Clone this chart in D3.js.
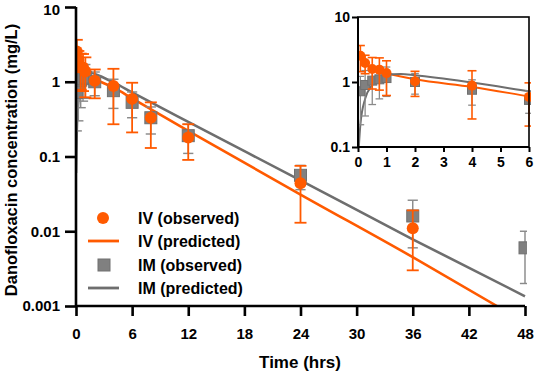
<!DOCTYPE html>
<html><head><meta charset="utf-8">
<script src="https://cdn.jsdelivr.net/npm/d3@7/dist/d3.min.js"></script>
<style>
body{margin:0;background:#fff;}
svg{display:block;font-family:"Liberation Sans",Arial,sans-serif;font-weight:bold;}
</style></head>
<body><svg id="c" width="536" height="374"></svg>
<script>
// ---- data ----
const ivTimes = [0.083,0.25,0.5,0.75,1,2,4,6,8,12,24,36];
const ivMean  = [2.54,1.96,1.58,1.55,1.37,1.03,0.88,0.59,0.33,0.18,0.044,0.011];
const ivSD    = [1.1,0.62,0.8,0.8,0.75,0.43,0.61,0.38,0.2,0.09,0.031,0.008];
const imTimes = [0.083,0.25,0.5,0.75,1,2,4,6,8,12,24,36,48];
const imMean  = [0.72,0.9,1.05,1.1,1.15,1.0,0.76,0.53,0.33,0.19,0.056,0.016,0.006];
const imSD    = [0.5,0.6,0.6,0.55,0.55,0.35,0.32,0.2,0.13,0.08,0.02,0.01,0.004];
const ivPredT = [0,0.083,0.25,0.5,0.75,1,2,4,6,12,24,36,45];
const ivPred  = [2.6,2.3,1.9,1.6,1.45,1.36,1.1,0.84,0.6,0.22,0.031,0.0045,0.001];
const imPredT = [0,0.083,0.25,0.5,0.75,1,1.5,2,4,6,12,24,36,48];
const imPred  = [0.06,0.22,0.55,0.9,1.15,1.3,1.33,1.27,0.98,0.72,0.29,0.048,0.0078,0.00135];
const xTicksMain = [0,6,12,18,24,30,36,42,48];
const yTicksMain = [0.001,0.01,0.1,1,10];
const yTickLabelsMain = ["0.001","0.01","0.1","1","10"];
const xTicksInset = [0,1,2,3,4,5,6];
const yTicksInset = [0.1,1,10];
const yTickLabelsInset = ["0.1","1","10"];
const legendLabels = ["IV (observed)","IV (predicted)","IM (observed)","IM (predicted)"];

const ORANGE = "#ff5a00", GRAY = "#6e6e6e", GRAYBAR = "#8a8a8a", GRAYFILL = "#808080";
const FONT = "'Liberation Sans',Arial,sans-serif";
const svg = d3.select("#c");

function panel(g, x, y, opt){
  const id = opt.id;
  g.append("clipPath").attr("id", id).append("rect")
    .attr("x", x.range()[0]).attr("y", y.range()[1]-2)
    .attr("width", x.range()[1]-x.range()[0]+2).attr("height", y.range()[0]-y.range()[1]+2);
  const line = d3.line().x(d=>x(d[0])).y(d=>y(d[1])).curve(d3.curveMonotoneX);
  const lg = g.append("g").attr("clip-path", `url(#${id})`);
  lg.append("path").datum(ivPredT.map((t,i)=>[t,ivPred[i]]).filter(d=>d[0]<=x.domain()[1]+6.5))
    .attr("d", line).attr("fill","none").attr("stroke",ORANGE).attr("stroke-width",opt.lw);
  lg.append("path").datum(imPredT.map((t,i)=>[t,imPred[i]]).filter(d=>d[0]<=x.domain()[1]+6.5))
    .attr("d", line).attr("fill","none").attr("stroke",GRAY).attr("stroke-width",opt.lw);

  const ymin = y.domain()[0];
  function bars(times, mean, sd, color, sw, cap){
    const gg = lg.append("g").attr("stroke", color).attr("stroke-width", sw);
    times.forEach((t,i)=>{
      if (t > x.domain()[1]+0.01) return;
      const hi = y(mean[i]+sd[i]);
      const lo = y(Math.max(mean[i]-sd[i], ymin*0.5));
      const cx = x(t);
      gg.append("line").attr("x1",cx).attr("x2",cx).attr("y1",hi).attr("y2",lo);
      gg.append("line").attr("x1",cx-cap).attr("x2",cx+cap).attr("y1",hi).attr("y2",hi);
      if (mean[i]-sd[i] > ymin)
        gg.append("line").attr("x1",cx-cap).attr("x2",cx+cap).attr("y1",lo).attr("y2",lo);
    });
  }
  bars(imTimes, imMean, imSD, GRAYBAR, opt.bw*0.8, opt.cap*0.85);
  const s = opt.sq;
  lg.append("g").selectAll("rect").data(imTimes.map((t,i)=>[t,imMean[i]]).filter(d=>d[0]<=x.domain()[1]+0.01))
    .join("rect").attr("x",d=>x(d[0])-s/2).attr("y",d=>y(d[1])-s/2).attr("width",s).attr("height",s)
    .attr("fill",GRAYFILL).attr("stroke","#707070").attr("stroke-width",1);
  bars(ivTimes, ivMean, ivSD, ORANGE, opt.bw, opt.cap);
  lg.append("g").selectAll("circle").data(ivTimes.map((t,i)=>[t,ivMean[i]]).filter(d=>d[0]<=x.domain()[1]+0.01))
    .join("circle").attr("cx",d=>x(d[0])).attr("cy",d=>y(d[1])).attr("r",opt.r).attr("fill",ORANGE);
}

function styleAxis(g, lw, fs){
  g.select(".domain").attr("stroke","#000").attr("stroke-width",lw);
  g.selectAll(".tick line").attr("stroke","#000").attr("stroke-width",lw);
  g.selectAll(".tick text").attr("fill","#000").style("font-size",fs).style("font-weight","bold")
   .style("font-family",FONT);
}

// ---- main chart ----
const x = d3.scaleLinear().domain([0,48]).range([76,525]);
const y = d3.scaleLog().domain([0.001,10]).range([306,7]);
const main = svg.append("g");
panel(main, x, y, {id:"clipMain", lw:2.6, bw:1.8, cap:6, sq:12, r:6});

const gx = main.append("g").attr("transform",`translate(0,306)`)
  .call(d3.axisBottom(x).tickValues(xTicksMain).tickSize(10).tickPadding(12).tickFormat(d3.format("d")));
const gy = main.append("g").attr("transform",`translate(76,0)`)
  .call(d3.axisLeft(y).tickValues(yTicksMain).tickSize(11).tickPadding(5).tickFormat((d,i)=>yTickLabelsMain[i]));
styleAxis(gx, 2.6, "15px");
styleAxis(gy, 2.6, "15px");
gy.selectAll(".tick text").filter(d=>d===10).attr("dy","0.5em");
gx.select(".domain").attr("d", `M${x.range()[0]},0H${x.range()[1]}`);
gy.select(".domain").attr("d", `M0,${y.range()[0]}V${y.range()[1]}`);

main.append("text").attr("x",300).attr("y",368).attr("text-anchor","middle")
  .style("font-size","17px").text("Time (hrs)");
main.append("text").attr("transform","translate(17,160) rotate(-90)").attr("text-anchor","middle")
  .style("font-size","16.5px").text("Danofloxacin concentration (mg/L)");

// legend
const lgd = main.append("g");
const ly = [218,241,265,288];
lgd.append("circle").attr("cx",103).attr("cy",ly[0]).attr("r",6).attr("fill",ORANGE);
lgd.append("line").attr("x1",88).attr("x2",119).attr("y1",ly[1]).attr("y2",ly[1]).attr("stroke",ORANGE).attr("stroke-width",2.8);
lgd.append("rect").attr("x",98).attr("y",ly[2]-6).attr("width",12).attr("height",12).attr("fill",GRAYFILL).attr("stroke","#707070");
lgd.append("line").attr("x1",88).attr("x2",119).attr("y1",ly[3]).attr("y2",ly[3]).attr("stroke",GRAY).attr("stroke-width",2.8);
lgd.selectAll("text").data(legendLabels).join("text")
  .attr("x",138).attr("y",(d,i)=>ly[i]).attr("dy","0.36em").style("font-size","16px").text(d=>d);

// ---- inset ----
const xi = d3.scaleLinear().domain([0,6]).range([358,529]);
const yi = d3.scaleLog().domain([0.1,10]).range([147,17]);
const inset = svg.append("g");
panel(inset, xi, yi, {id:"clipInset", lw:2, bw:1.6, cap:4.5, sq:9, r:5});
inset.append("rect").attr("x",358).attr("y",17).attr("width",171).attr("height",130)
  .attr("fill","none").attr("stroke","#000").attr("stroke-width",1.6);
const gxi = inset.append("g").attr("transform","translate(0,147)")
  .call(d3.axisBottom(xi).tickValues(xTicksInset).tickSize(5).tickPadding(5).tickFormat(d3.format("d")));
const gyi = inset.append("g").attr("transform","translate(358,0)")
  .call(d3.axisLeft(yi).tickValues(yTicksInset).tickSize(6).tickPadding(2).tickFormat((d,i)=>yTickLabelsInset[i]));
styleAxis(gxi, 2, "14px");
styleAxis(gyi, 2, "14px");
gxi.select(".domain").attr("d", `M${xi.range()[0]},0H${xi.range()[1]}`);
gyi.select(".domain").attr("d", `M0,${yi.range()[0]}V${yi.range()[1]}`);
</script></body></html>
